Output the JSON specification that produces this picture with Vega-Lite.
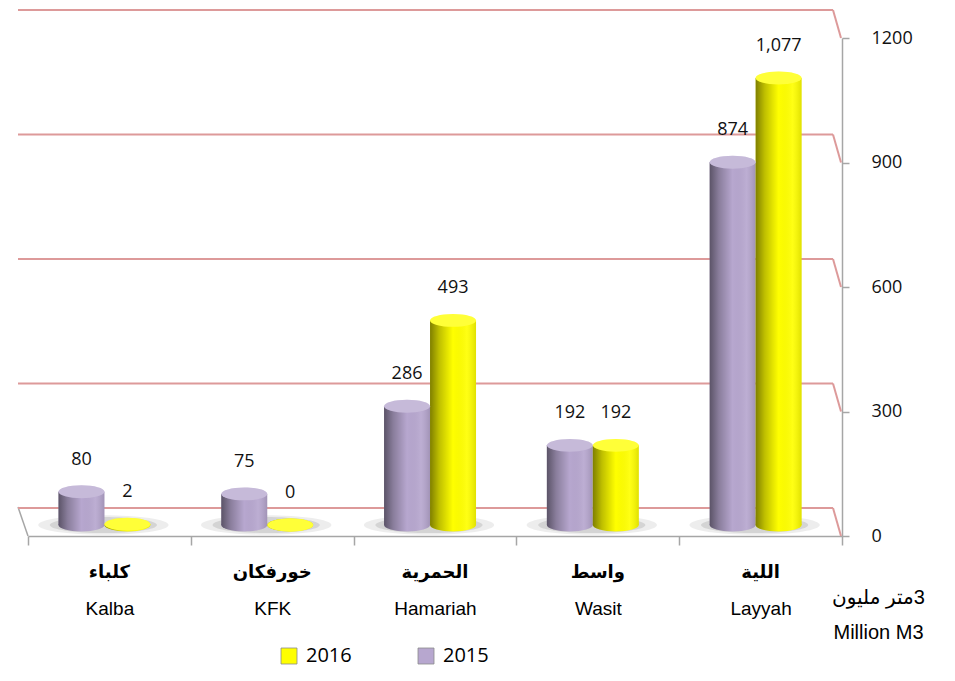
{
  "$schema": "https://vega.github.io/schema/vega-lite/v6.json",
  "width": 814,
  "height": 498,
  "autosize": {"type": "none"},
  "padding": {"left": 28, "top": 38, "right": 113, "bottom": 145},
  "background": "white",
  "config": {"view": {"stroke": null}, "font": "Open Sans"},
  "datasets": {
    "bars": [
      {"cat": "Kalba", "year": "2015", "value": 80},
      {"cat": "Kalba", "year": "2016", "value": 2},
      {"cat": "KFK", "year": "2015", "value": 75},
      {"cat": "KFK", "year": "2016", "value": 0},
      {"cat": "Hamariah", "year": "2015", "value": 286},
      {"cat": "Hamariah", "year": "2016", "value": 493},
      {"cat": "Wasit", "year": "2015", "value": 192},
      {"cat": "Wasit", "year": "2016", "value": 192},
      {"cat": "Layyah", "year": "2015", "value": 874},
      {"cat": "Layyah", "year": "2016", "value": 1077}
    ],
    "cats": [
      {"cat": "Kalba", "ar": "كلباء"},
      {"cat": "KFK", "ar": "خورفكان"},
      {"cat": "Hamariah", "ar": "الحمرية"},
      {"cat": "Wasit", "ar": "واسط"},
      {"cat": "Layyah", "ar": "اللية"}
    ],
    "grid": [{"v": 0}, {"v": 300}, {"v": 600}, {"v": 900}, {"v": 1200}],
    "floor": [{"v": 0}]
  },
  "layer": [
    {
      "data": {"name": "floor"},
      "mark": {"type": "rule", "color": "#a6a6a6", "strokeWidth": 1.5, "xOffset": -10, "yOffset": -29},
      "encoding": {
        "x": {"value": 0},
        "x2": {"value": 0},
        "y": {"field": "v", "type": "quantitative", "scale": {"domain": [0, 1200], "nice": false}},
        "y2": {"field": "v"}
      }
    },
    {
      "data": {"name": "grid"},
      "mark": {"type": "rule", "color": "#dd9a9a", "strokeWidth": 2, "xOffset": -10, "x2Offset": -9, "yOffset": -28},
      "encoding": {
        "x": {"value": 0},
        "x2": {"value": "width"},
        "y": {"field": "v", "type": "quantitative", "scale": {"domain": [0, 1200], "nice": false}}
      }
    },
    {
      "data": {"name": "grid"},
      "mark": {"type": "rule", "color": "#dd9a9a", "strokeWidth": 2, "xOffset": -9, "x2Offset": -1, "yOffset": -28},
      "encoding": {
        "x": {"value": "width"},
        "x2": {"value": "width"},
        "y": {"field": "v", "type": "quantitative", "scale": {"domain": [0, 1200], "nice": false}},
        "y2": {"field": "v"}
      }
    },
    {
      "data": {"name": "cats"},
      "mark": {"type": "point", "filled": true, "shape": "M-1,0A1,0.15 0 1,1 1,0A1,0.15 0 1,1 -1,0Z", "size": 17000, "color": "#000000", "opacity": 0.07, "strokeWidth": 0, "yOffset": -11, "xOffset": -6},
      "encoding": {
        "x": {"field": "cat", "type": "nominal", "sort": ["Kalba", "KFK", "Hamariah", "Wasit", "Layyah"], "scale": {"paddingInner": 0, "paddingOuter": 0}},
        "y": {"datum": 0, "type": "quantitative"}
      }
    },
    {
      "data": {"name": "cats"},
      "mark": {"type": "point", "filled": true, "shape": "M-1,0A1,0.15 0 1,1 1,0A1,0.15 0 1,1 -1,0Z", "size": 11500, "color": "#000000", "opacity": 0.1, "strokeWidth": 0, "yOffset": -11, "xOffset": -6},
      "encoding": {
        "x": {"field": "cat", "type": "nominal", "sort": ["Kalba", "KFK", "Hamariah", "Wasit", "Layyah"], "scale": {"paddingInner": 0, "paddingOuter": 0}},
        "y": {"datum": 0, "type": "quantitative"}
      }
    },
    {
      "data": {"name": "cats"},
      "mark": {"type": "text", "font": "DejaVu Sans", "fontWeight": "bold", "fontSize": 18, "color": "#000000", "baseline": "middle", "yOffset": 37},
      "encoding": {
        "x": {"field": "cat", "type": "nominal", "sort": ["Kalba", "KFK", "Hamariah", "Wasit", "Layyah"], "scale": {"paddingInner": 0, "paddingOuter": 0}},
        "y": {"datum": 0, "type": "quantitative"},
        "text": {"field": "ar"}
      }
    },
    {
      "data": {"name": "bars"},
      "encoding": {
        "x": {"field": "cat", "type": "nominal", "sort": ["Kalba", "KFK", "Hamariah", "Wasit", "Layyah"], "scale": {"paddingInner": 0, "paddingOuter": 0}},
        "xOffset": {"field": "year", "type": "nominal", "sort": ["2015", "2016"], "scale": {"paddingInner": 0, "paddingOuter": 0.77, "align": 0.43}}
      },
      "layer": [
        {
          "mark": {"type": "point", "filled": true, "shape": "M-1,0A1,0.28 0 1,1 1,0A1,0.28 0 1,1 -1,0Z", "size": 2116, "opacity": 1, "strokeWidth": 0, "yOffset": -11},
          "encoding": {
            "y": {"datum": 0, "type": "quantitative"},
            "color": {"field": "year", "type": "nominal"}
          }
        },
        {
          "mark": {"type": "point", "filled": true, "shape": "M-1,0A1,0.28 0 1,1 1,0A1,0.28 0 1,1 -1,0Z", "size": 2116, "opacity": 1, "strokeWidth": 0, "yOffset": -11,
            "fill": {"gradient": "linear", "x1": 0, "y1": 0, "x2": 1, "y2": 0, "stops": [{"offset": 0, "color": "rgba(0,0,0,0.5)"}, {"offset": 0.2, "color": "rgba(0,0,0,0.25)"}, {"offset": 0.5, "color": "rgba(0,0,0,0)"}, {"offset": 0.8, "color": "rgba(255,255,255,0.08)"}, {"offset": 1, "color": "rgba(0,0,0,0.12)"}]}},
          "encoding": {
            "y": {"datum": 0, "type": "quantitative"}
          }
        },
        {
          "mark": {"type": "bar", "yOffset": -11, "y2Offset": -11},
          "encoding": {
            "x": {"field": "cat", "type": "nominal", "sort": ["Kalba", "KFK", "Hamariah", "Wasit", "Layyah"], "scale": {"paddingInner": 0, "paddingOuter": 0},
              "axis": {"title": null, "orient": "bottom", "domainColor": "#a6a6a6", "domainWidth": 1.5, "tickColor": "#a6a6a6", "tickWidth": 1.5, "tickSize": 9, "tickBand": "extent", "labelFont": "Liberation Sans", "labelFontSize": 19, "labelColor": "#000000", "labelPadding": 63, "labelBaseline": "middle", "labelAlign": "center", "labelAngle": 0}},
            "y": {"field": "value", "type": "quantitative", "stack": null, "scale": {"domain": [0, 1200], "nice": false},
              "axis": {"orient": "right", "title": ["\u202aمليون\u200e متر\u200e3\u202c", "Million M3"], "titleAngle": 0, "titleX": 36, "titleY": 549, "titleAlign": "center", "titleBaseline": "top", "titleFont": "Liberation Sans, DejaVu Sans", "titleFontSize": 20, "titleFontWeight": "normal", "titleColor": "#000000", "titleLineHeight": 35, "values": [0, 300, 600, 900, 1200], "format": "d", "grid": false, "domainColor": "#a6a6a6", "domainWidth": 1.5, "tickColor": "#a6a6a6", "tickWidth": 1.5, "tickSize": 7, "labelPadding": 22, "labelFont": "Open Sans", "labelFontSize": 18, "labelColor": "#111111", "labelAlign": "left", "labelBaseline": "middle"}},
            "y2": {"datum": 0},
            "color": {"field": "year", "type": "nominal", "scale": {"domain": ["2016", "2015"], "range": ["#ffff00", "#b7a7cf"]},
              "legend": {"orient": "none", "legendX": 251, "legendY": 608, "direction": "horizontal", "title": null, "symbolType": "square", "symbolSize": 256, "symbolStrokeWidth": 0.8, "symbolStrokeColor": "#8a8a8a", "symbolOpacity": 1, "labelFont": "Open Sans", "labelFontSize": 20, "labelColor": "#000000", "columnPadding": 64, "labelOffset": 7}}
          }
        },
        {
          "mark": {"type": "bar", "yOffset": -11, "y2Offset": -11,
            "fill": {"gradient": "linear", "x1": 0, "y1": 0, "x2": 1, "y2": 0, "stops": [{"offset": 0, "color": "rgba(0,0,0,0.5)"}, {"offset": 0.2, "color": "rgba(0,0,0,0.25)"}, {"offset": 0.5, "color": "rgba(0,0,0,0)"}, {"offset": 0.8, "color": "rgba(255,255,255,0.08)"}, {"offset": 1, "color": "rgba(0,0,0,0.12)"}]}},
          "encoding": {
            "y": {"field": "value", "type": "quantitative", "stack": null},
            "y2": {"datum": 0}
          }
        },
        {
          "mark": {"type": "point", "filled": true, "shape": "M-1,0A1,0.28 0 1,1 1,0A1,0.28 0 1,1 -1,0Z", "size": 2116, "opacity": 1, "strokeWidth": 0, "yOffset": -11},
          "encoding": {
            "y": {"field": "value", "type": "quantitative"},
            "color": {"field": "year", "type": "nominal"}
          }
        },
        {
          "mark": {"type": "point", "filled": true, "shape": "M-1,0A1,0.28 0 1,1 1,0A1,0.28 0 1,1 -1,0Z", "size": 2116, "color": "#ffffff", "opacity": 0.22, "strokeWidth": 0, "yOffset": -11},
          "encoding": {
            "y": {"field": "value", "type": "quantitative"}
          }
        },
        {
          "mark": {"type": "text", "yOffset": -43, "fontSize": 18, "font": "Open Sans", "color": "#111111", "baseline": "middle"},
          "encoding": {
            "y": {"field": "value", "type": "quantitative"},
            "text": {"field": "value", "type": "quantitative", "format": ","}
          }
        }
      ]
    }
  ]
}
